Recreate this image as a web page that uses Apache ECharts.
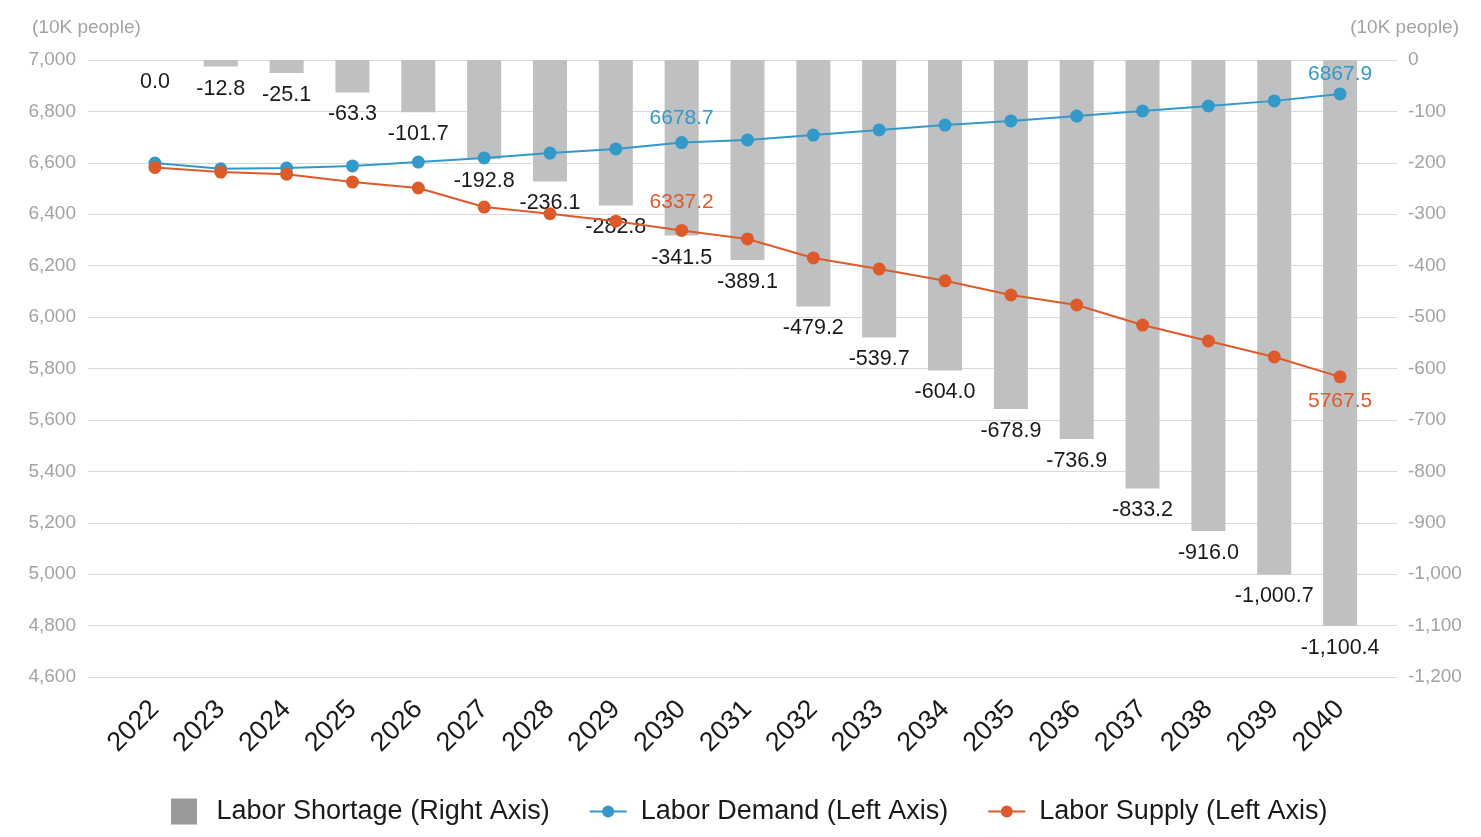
<!DOCTYPE html>
<html>
<head>
<meta charset="utf-8">
<script src="https://cdn.jsdelivr.net/npm/echarts@6/dist/echarts.min.js"></script>
<style>
  html, body { margin: 0; padding: 0; background: #fff; }
  #chart { width: 1481px; height: 837px; }
</style>
</head>
<body>
<div id="chart"></div>
<script>
// data
var years = ['2022', '2023', '2024', '2025', '2026', '2027', '2028', '2029', '2030', '2031',
             '2032', '2033', '2034', '2035', '2036', '2037', '2038', '2039', '2040'];
var shortage = [0.0, -12.8, -25.1, -63.3, -101.7, -192.8, -236.1, -282.8, -341.5, -389.1,
                -479.2, -539.7, -604.0, -678.9, -736.9, -833.2, -916.0, -1000.7, -1100.4];
var demand = [6599, 6577, 6580, 6588, 6603, 6619, 6638, 6654, 6678.7, 6689,
              6708, 6728, 6747, 6763, 6782, 6802, 6821, 6841, 6867.9];
var supply = [6582, 6564, 6556, 6525, 6502, 6428, 6402, 6373, 6337.2, 6304,
              6230, 6187, 6141, 6086, 6047, 5969, 5907, 5845, 5767.5];
// which points carry a value label: [position, distance]
var demandLabels = { 8: ['top', 7], 18: ['top', 3] };
var supplyLabels = { 8: ['top', 11], 18: ['bottom', 7] };

var blue = '#3399c9';
var orange = '#dd5a2b';
var grayBar = '#bfc0c2';
var font = 'Liberation Sans, Arial, sans-serif';

// legend icons: a square for the bars, a line with a dot for the lines
var barIcon = 'path://M0,0 h26 v26 h-26 z';
var lineIcon = 'path://M0,5 h37 v2 h-37 z M12.5,6 a6,6 0 1,1 12,0 a6,6 0 1,1 -12,0 z';

function fmt(v, dec) {
    return Number(v).toLocaleString('en-US', { minimumFractionDigits: dec, maximumFractionDigits: dec });
}

function lineData(vals, labels, color) {
    return vals.map((v, i) => {
        if (!(i in labels)) { return v; }
        return {
            value: v,
            label: {
                show: true, position: labels[i][0], distance: labels[i][1],
                color: color, fontSize: 21, fontFamily: font,
                formatter: (p) => p.value.toFixed(1)
            }
        };
    });
}

var chart = echarts.init(document.getElementById('chart'));

var option = {
    backgroundColor: '#fff',
    animation: false,
    textStyle: { fontFamily: font },
    title: [
        { text: '(10K people)', left: 27, top: 13, textStyle: { color: '#a3a3a3', fontSize: 19, fontWeight: 'normal', fontFamily: font } },
        { text: '(10K people)', right: 17, top: 13, textStyle: { color: '#a3a3a3', fontSize: 19, fontWeight: 'normal', fontFamily: font } }
    ],
    // grid 0 carries the gridlines and tick labels, grid 1 the marks
    grid: [
        { left: 88, right: 84, top: 60, bottom: 160 },
        { left: 122, right: 108, top: 60, bottom: 160 }
    ],
    legend: {
        bottom: 7,
        left: 166,
        itemWidth: 37,
        itemHeight: 26,
        itemGap: 40,
        textStyle: { fontSize: 27, color: '#1a1a1a', fontFamily: font, padding: [0, 0, 0, 9] },
        data: [
            { name: 'Labor Shortage (Right Axis)', icon: barIcon, itemStyle: { color: '#9a9a9a' } },
            { name: 'Labor Demand (Left Axis)', icon: lineIcon, itemStyle: { color: blue } },
            { name: 'Labor Supply (Left Axis)', icon: lineIcon, itemStyle: { color: orange } }
        ]
    },
    xAxis: [
        { gridIndex: 0, type: 'category', data: years, show: false },
        {
            gridIndex: 1, type: 'category', data: years,
            axisLine: { show: false }, axisTick: { show: false },
            axisLabel: { rotate: 45, fontSize: 27, color: '#1a1a1a', margin: 28, interval: 0, fontFamily: font }
        }
    ],
    yAxis: [
        {
            gridIndex: 0, type: 'value', position: 'left', min: 4600, max: 7000, interval: 200,
            axisLine: { show: false }, axisTick: { show: false },
            axisLabel: { color: '#a3a3a3', fontSize: 19, margin: 12, formatter: (v) => fmt(v, 0) },
            splitLine: { lineStyle: { color: '#d9d9d9', width: 1 } }
        },
        {
            gridIndex: 0, type: 'value', position: 'right', min: -1200, max: 0, interval: 100,
            axisLine: { show: false }, axisTick: { show: false },
            axisLabel: { color: '#a3a3a3', fontSize: 19, margin: 11, formatter: (v) => fmt(v, 0) },
            splitLine: { show: false }
        },
        { gridIndex: 1, type: 'value', min: 4600, max: 7000, interval: 200, show: false, splitLine: { show: false } },
        { gridIndex: 1, type: 'value', min: -1200, max: 0, interval: 100, show: false, splitLine: { show: false } }
    ],
    series: [
        {
            name: 'Labor Shortage (Right Axis)',
            type: 'bar',
            xAxisIndex: 1, yAxisIndex: 3,
            barWidth: 34,
            itemStyle: { color: grayBar },
            label: {
                show: true, position: 'bottom', distance: 11,
                color: '#1a1a1a', fontSize: 21.5, fontFamily: font,
                formatter: (p) => fmt(p.value, 1)
            },
            data: shortage
        },
        {
            name: 'Labor Demand (Left Axis)',
            type: 'line',
            xAxisIndex: 1, yAxisIndex: 2,
            symbol: 'circle', symbolSize: 13,
            lineStyle: { color: blue, width: 2 },
            itemStyle: { color: blue },
            data: lineData(demand, demandLabels, blue)
        },
        {
            name: 'Labor Supply (Left Axis)',
            type: 'line',
            xAxisIndex: 1, yAxisIndex: 2,
            symbol: 'circle', symbolSize: 13,
            lineStyle: { color: orange, width: 2 },
            itemStyle: { color: orange },
            data: lineData(supply, supplyLabels, orange)
        }
    ]
};

chart.setOption(option);
</script>
</body>
</html>
